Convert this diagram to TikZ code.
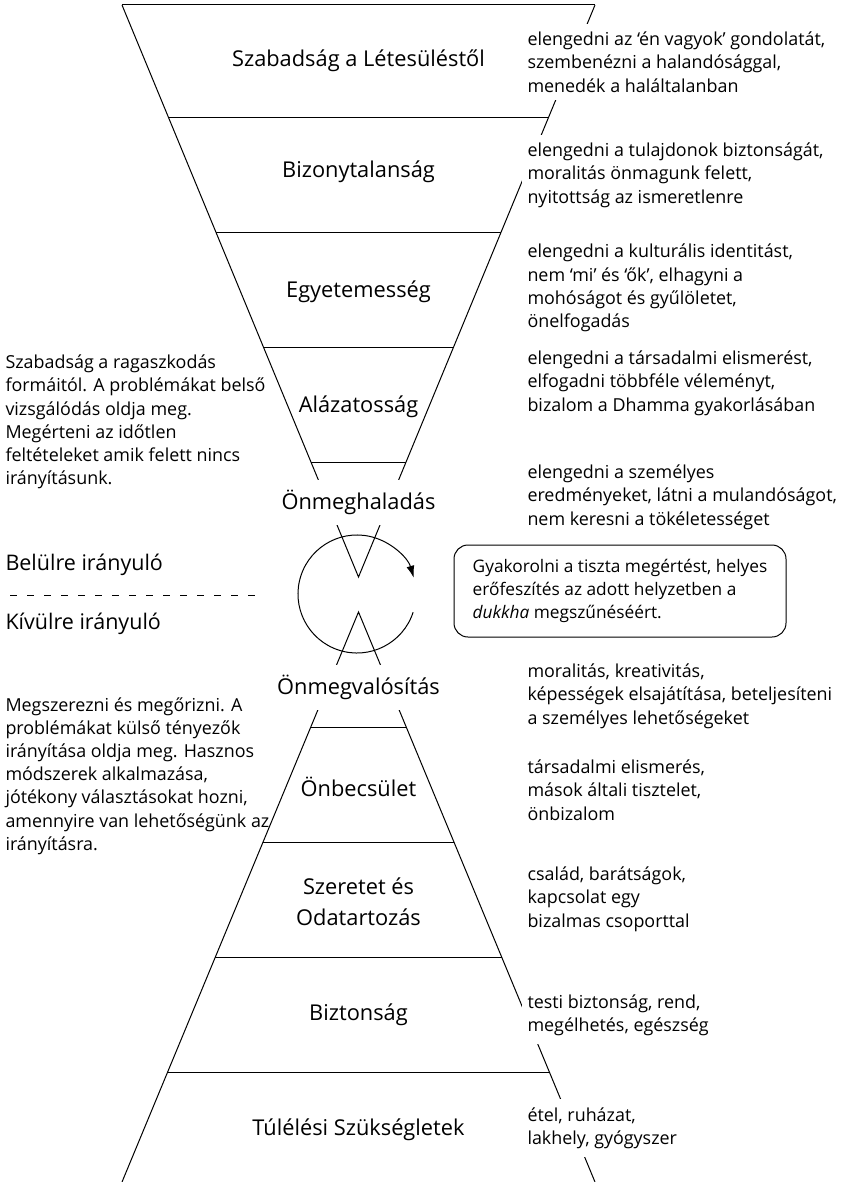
\documentclass[tikz,border=0pt]{standalone}
\usepackage{fontspec}
\setmainfont{Open Sans}
\usetikzlibrary{arrows.meta,calc}

\begin{document}
\begin{tikzpicture}[x=1pt,y=1pt,
  line width=1pt,
  level/.style={font=\fontsize{21.8}{31}\selectfont, align=center, inner sep=2pt},
  gate/.style={level, fill=white, minimum height=45pt, inner xsep=6pt},
  note/.style={font=\fontsize{17.9}{23.3}\selectfont, align=left, anchor=west,
    fill=white, inner xsep=6pt, inner ysep=8pt},
  side/.style={font=\fontsize{17.9}{23.2}\selectfont, align=left, anchor=west, inner sep=0pt},
  way/.style={font=\fontsize{21.5}{24}\selectfont, anchor=west, inner sep=0pt},
  practice/.style={draw, rounded corners=14pt, font=\fontsize{17.3}{23.3}\selectfont,
    align=left, minimum width=332pt, minimum height=92pt}
]
\useasboundingbox (0,0) rectangle (840,-1182);
\fill[white] (0,0) rectangle (840,-1182);

% corners of the upper funnel and the lower pyramid
\coordinate (tl) at (122,-5);
\coordinate (tr) at (595,-5);
\coordinate (ua) at (358.5,-577);
\coordinate (la) at (358.5,-612);
\coordinate (bl) at (122,-1182);
\coordinate (br) at (595,-1182);

\draw (tl) -- (tr);
\draw (tl) -- (ua) -- (tr);
\draw (bl) -- (la) -- (br);

% shelves of the funnel
\foreach \y in {118,233,348,463}
  \draw ($(tl)!{(\y-5)/572}!(ua)$) -- ($(tr)!{(\y-5)/572}!(ua)$);
% shelves of the pyramid
\foreach \y in {727,842,957,1072}
  \draw ($(la)!{(\y-612)/570}!(bl)$) -- ($(la)!{(\y-612)/570}!(br)$);

% turning circle between the two halves
\coordinate (cc) at (357,-594);
\draw[-{Latex[length=12pt,width=8pt]}] ([shift={(-18:59)}]cc)
  arc[start angle=-18, end angle=-344, radius=59];

% level names
\node[level] (l1) at (358.5,-61) {Szabadság a Létesüléstől};
\node[level] (l2) at (358.5,-172) {Bizonytalanság};
\node[level] (l3) at (358.5,-292) {Egyetemesség};
\node[level] (l4) at (358.5,-407) {Alázatosság};
\node[gate] (l5) at (358.5,-502) {Önmeghaladás};
\node[gate] (l6) at (358.5,-687) {Önmegvalósítás};
\node[level] (l7) at (358.5,-787) {Önbecsület};
\node[level] (l8) at (358.5,-902) {Szeretet és\\Odatartozás};
\node[level] (l9) at (358.5,-1015) {Biztonság};
\node[level] (l10) at (358.5,-1130) {Túlélési Szükségletek};

% notes beside each level
\node[note] (r1) at (521,-62) {elengedni az ‘én vagyok’ gondolatát,\\szembenézni a halandósággal,\\menedék a haláltalanban};
\node[note] (r2) at (521,-175) {elengedni a tulajdonok biztonságát,\\moralitás önmagunk felett,\\nyitottság az ismeretlenre};
\node[note] (r3) at (521,-288) {elengedni a kulturális identitást,\\nem ‘mi’ és ‘ők’, elhagyni a\\mohóságot és gyűlöletet,\\önelfogadás};
\node[note] (r4) at (521,-383) {elengedni a társadalmi elismerést,\\elfogadni többféle véleményt,\\bizalom a Dhamma gyakorlásában};
\node[note] (r5) at (521,-497) {elengedni a személyes\\eredményeket, látni a mulandóságot,\\nem keresni a tökéletességet};
\node[practice] (pr) at (620,-591) {Gyakorolni a tiszta megértést, helyes\\erőfeszítés az adott helyzetben a\\\textit{dukkha} megszűnéséért.};
\node[note] (r6) at (521,-696) {moralitás, kreativitás,\\képességek elsajátítása, beteljesíteni\\a személyes lehetőségeket};
\node[note] (r7) at (521,-790) {társadalmi elismerés,\\mások általi tisztelet,\\önbizalom};
\node[note] (r8) at (521,-899) {család, barátságok,\\kapcsolat egy\\bizalmas csoporttal};
\node[note] (r9) at (521,-1015) {testi biztonság, rend,\\megélhetés, egészség};
\node[note] (r10) at (521,-1128) {étel, ruházat,\\lakhely, gyógyszer};

% left-hand commentary
\node[side] (c1) at (5,-422) {Szabadság a ragaszkodás\\formáitól. A problémákat belső\\vizsgálódás oldja meg.\\Megérteni az időtlen\\feltételeket amik felett nincs\\irányításunk.};
\node[way] (in) at (5,-565) {Belülre irányuló};
\coordinate (d1) at (10,-595);
\coordinate (d2) at (262,-595);
\draw[dash pattern=on 7pt off 10pt] (d1) -- (d2);
\node[way] (out) at (5,-624) {Kívülre irányuló};
\node[side] (c2) at (5,-776) {Megszerezni és megőrizni. A\\problémákat külső tényezők\\irányítása oldja meg. Hasznos\\módszerek alkalmazása,\\jótékony választásokat hozni,\\amennyire van lehetőségünk az\\irányításra.};
\end{tikzpicture}
\end{document}
